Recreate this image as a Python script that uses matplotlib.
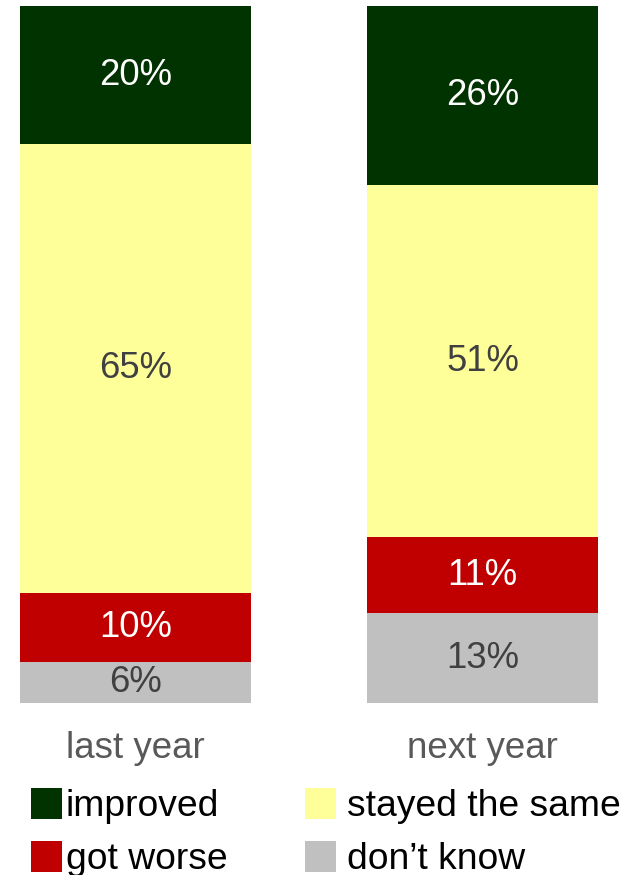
import matplotlib
matplotlib.use("Agg")
import matplotlib.pyplot as plt
from matplotlib.patches import Rectangle

plt.rcParams['font.family'] = ['Liberation Sans', 'DejaVu Sans']

categories = ["last year", "next year"]
series = ["don’t know", "got worse", "stayed the same", "improved"]
values = {
    "don’t know": [6, 13],
    "got worse": [10, 11],
    "stayed the same": [65, 51],
    "improved": [20, 26],
}
colors = {
    "don’t know": "#C0C0C0",
    "got worse": "#C00000",
    "stayed the same": "#FFFF99",
    "improved": "#003300",
}
label_colors = {
    "don’t know": "#404040",
    "got worse": "#FFFFFF",
    "stayed the same": "#404040",
    "improved": "#FFFFFF",
}
legend_order = ["improved", "stayed the same", "got worse", "don’t know"]

W, H = 638, 875
fig = plt.figure(figsize=(W / 100, H / 100), dpi=100)

# axes spanning the two bars exactly
ax = fig.add_axes([20 / W, (H - 703) / H, 578 / W, 697 / H])
bar_w = 231 / 347
x = list(range(len(categories)))

bottoms = [0.0] * len(categories)
for s in series:
    vals = values[s]
    ax.bar(x, vals, width=bar_w, bottom=bottoms, color=colors[s],
           edgecolor="none", linewidth=0)
    for xi, v, b in zip(x, vals, bottoms):
        ax.text(xi, b + v / 2, f"{v}%", ha="center", va="center",
                fontsize=26.3, color=label_colors[s])
    bottoms = [b + v for b, v in zip(bottoms, vals)]

ax.set_xlim(-bar_w / 2, len(categories) - 1 + bar_w / 2)
ax.set_ylim(0, max(bottoms))
ax.set_yticks([])
ax.set_xticks(x)
ax.set_xticklabels(categories, fontsize=26.5, color="#595959")
ax.tick_params(axis="x", length=0, pad=20)
for sp in ax.spines.values():
    sp.set_visible(False)

# legend: two columns of colour squares with labels
def px(xp, yp):
    return xp / W, (H - yp) / H

legend_pos = {
    "improved": (31, 788, 66),
    "got worse": (31, 841, 66),
    "stayed the same": (305, 788, 347),
    "don’t know": (305, 841, 347),
}
sq = 31
for name in legend_order:
    x0, y0, tx = legend_pos[name]
    fx, fy = px(x0, y0 + sq)
    fig.patches.append(Rectangle((fx, fy), sq / W, sq / H, transform=fig.transFigure,
                                 facecolor=colors[name], edgecolor="none"))
    tfx, tfy = px(tx, y0 + sq / 2 - 1)
    fig.text(tfx, tfy, name, ha="left", va="center_baseline", fontsize=26.8, color="#000000")

fig.savefig("out.png", dpi=100)
